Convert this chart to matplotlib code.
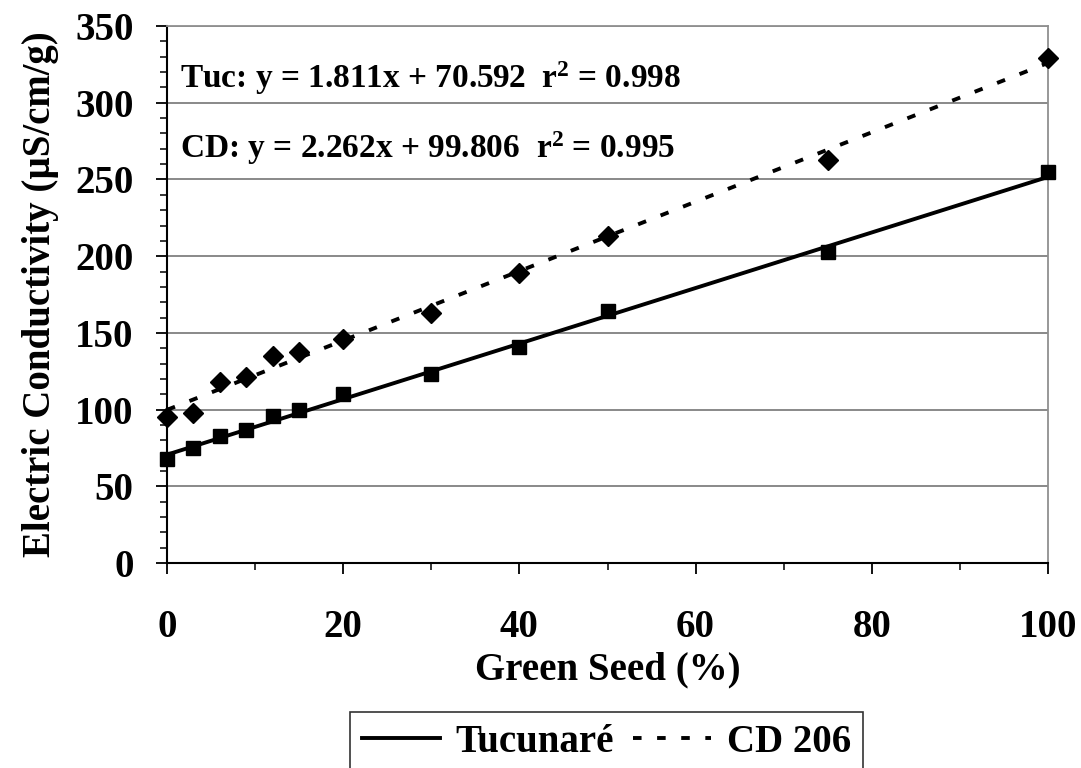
import matplotlib
matplotlib.use('Agg')
import matplotlib.pyplot as plt
from matplotlib.ticker import MultipleLocator
import numpy as np

# ── Data ──────────────────────────────────────────────────────────────────────
green_seed = [0, 3, 6, 9, 12, 15, 20, 30, 40, 50, 75, 100]
tucunare   = [68, 75, 83, 87, 96, 99.5, 110, 123.5, 141, 164, 203, 255]
cd206      = [95, 98, 118, 121, 135, 137.5, 146, 163, 189, 213, 263, 329]

fit_tuc = (1.811, 70.592)
fit_cd  = (2.262, 99.806)
eq_tuc  = 'Tuc: y = 1.811x + 70.592  r$^2$ = 0.998'
eq_cd   = 'CD: y = 2.262x + 99.806  r$^2$ = 0.995'

# ── Style ─────────────────────────────────────────────────────────────────────
plt.rcParams['font.family'] = ['Liberation Serif']
plt.rcParams['font.weight'] = 'bold'
plt.rcParams['mathtext.fontset'] = 'custom'
plt.rcParams['mathtext.rm'] = 'Liberation Serif:bold'
plt.rcParams['mathtext.it'] = 'Liberation Serif:bold'
plt.rcParams['mathtext.bf'] = 'Liberation Serif:bold'

fig = plt.figure(figsize=(10.81, 7.68), dpi=100)
ax = fig.add_axes([0.1545, 0.267, 0.815, 0.699])

# ── Trend lines + points ──────────────────────────────────────────────────────
xfit = np.array([0, 100])
ax.plot(xfit, fit_tuc[0] * xfit + fit_tuc[1], color='black', lw=2.8,
        label='Tucunaré', zorder=3)
ax.plot(xfit, fit_cd[0] * xfit + fit_cd[1], color='black', lw=2.8,
        dashes=(2.2, 4.0), label='CD 206', zorder=3)
ax.plot(green_seed, tucunare, 's', color='black', ms=10, clip_on=False, zorder=4)
ax.plot(green_seed, cd206, 'D', color='black', ms=10, clip_on=False, zorder=4)

ax.text(1.5, 316, eq_tuc, fontsize=24, fontweight='bold', va='center')
ax.text(1.5, 270.5, eq_cd, fontsize=24, fontweight='bold', va='center')

# ── Axes ──────────────────────────────────────────────────────────────────────
ax.set_xlim(0, 100)
ax.set_ylim(0, 350)
ax.xaxis.set_major_locator(MultipleLocator(20))
ax.xaxis.set_minor_locator(MultipleLocator(10))
ax.yaxis.set_major_locator(MultipleLocator(50))
ax.yaxis.set_minor_locator(MultipleLocator(10))
ax.grid(axis='y', which='major', color='#808080', lw=1.3)
ax.set_axisbelow(True)
for s in ['top', 'right']:
    ax.spines[s].set_color('#909090')
    ax.spines[s].set_linewidth(1.3)
for s in ['left', 'bottom']:
    ax.spines[s].set_linewidth(1.5)

ax.tick_params(axis='both', which='major', length=8, width=1.3, direction='out',
               labelsize=28)
ax.tick_params(axis='both', which='minor', length=5, width=1.1, direction='out')
ax.tick_params(axis='x', which='major', pad=25)
ax.tick_params(axis='y', which='major', pad=16)

ax.set_xlabel('Green Seed (%)', fontsize=28, fontweight='bold', labelpad=4)
ax.set_ylabel('Electric Conductivity (µS/cm/g)', fontsize=28, fontweight='bold',
              labelpad=12)

leg = fig.legend(loc='upper center', bbox_to_anchor=(0.561, 0.073), ncol=2,
                 fontsize=28, frameon=True, fancybox=False, handlelength=2.0,
                 columnspacing=0.5, handletextpad=0.4, borderpad=0.3,
                 borderaxespad=0)
leg.get_frame().set_edgecolor('black')
leg.get_frame().set_linewidth(1.2)

plt.savefig('out.png', dpi=100)
